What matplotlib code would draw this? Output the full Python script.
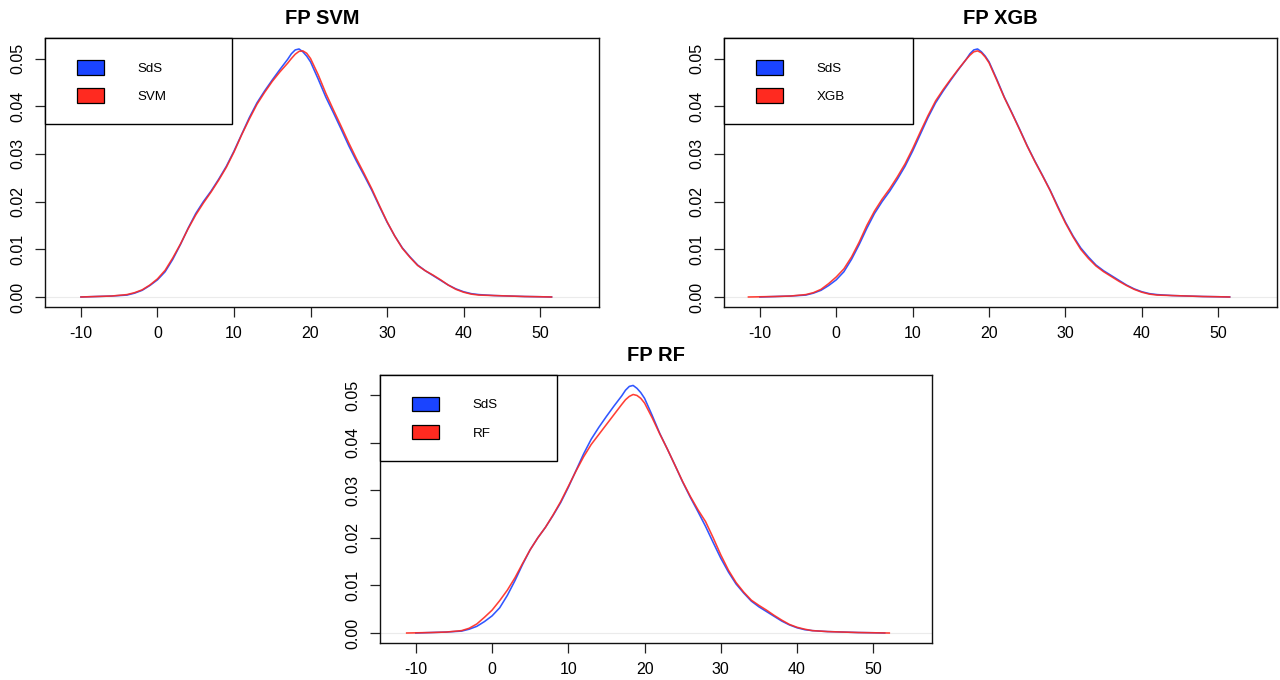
import matplotlib
matplotlib.use("Agg")
import matplotlib.pyplot as plt
from matplotlib.patches import Rectangle

plt.rcParams['font.family'] = ['Liberation Sans', 'DejaVu Sans']
plt.rcParams['axes.unicode_minus'] = False

FIG_W, FIG_H = 1280, 680

# interior evaluation points shared by all density curves
x_grid = [-8, -6, -4, -3, -2, -1, 0, 1, 2, 3, 4, 5, 6, 7, 8, 9, 10, 11, 12, 13, 14, 15, 16, 17,
          17.5, 18, 18.5, 19, 19.5, 20, 21, 22, 23, 24, 25, 26, 27, 28, 29, 30, 31, 32, 33, 34,
          35, 36, 37, 38, 39, 40, 41, 42, 44, 46, 48, 50]

# kernel density of the reference (SdS) and of each model
dens_sds = [0.0001, 0.0002, 0.0004, 0.0008, 0.0014, 0.0024, 0.0036, 0.0053, 0.0079, 0.0110,
            0.0144, 0.0175, 0.0200, 0.0222, 0.0247, 0.0274, 0.0306, 0.0341, 0.0376, 0.0407,
            0.0432, 0.0455, 0.0477, 0.0498, 0.0510, 0.0518, 0.0520, 0.0514, 0.0505, 0.0493,
            0.0457, 0.0419, 0.0386, 0.0352, 0.0317, 0.0285, 0.0255, 0.0224, 0.0190, 0.0157,
            0.0128, 0.0103, 0.0084, 0.0067, 0.0055, 0.0045, 0.0035, 0.0025, 0.0017, 0.0011,
            0.0007, 0.0005, 0.0003, 0.0002, 0.0001, 0.00005]
dens_svm = [0.0001, 0.0002, 0.0005, 0.0009, 0.0015, 0.0025, 0.0038, 0.0056, 0.0082, 0.0111,
            0.0143, 0.0172, 0.0197, 0.0220, 0.0245, 0.0272, 0.0304, 0.0340, 0.0373, 0.0404,
            0.0429, 0.0452, 0.0472, 0.0490, 0.0500, 0.0509, 0.0515, 0.0516, 0.0511, 0.0500,
            0.0466, 0.0427, 0.0392, 0.0358, 0.0323, 0.0290, 0.0259, 0.0227, 0.0192, 0.0158,
            0.0128, 0.0102, 0.0083, 0.0066, 0.0055, 0.0046, 0.0036, 0.0025, 0.0016, 0.0010,
            0.0006, 0.0004, 0.0003, 0.0002, 0.0001, 0.00005]
dens_xgb = [0.0001, 0.0002, 0.0005, 0.0009, 0.0016, 0.0028, 0.0042, 0.0059, 0.0084, 0.0115,
            0.0150, 0.0180, 0.0205, 0.0227, 0.0252, 0.0279, 0.0311, 0.0346, 0.0380, 0.0411,
            0.0435, 0.0457, 0.0478, 0.0498, 0.0507, 0.0514, 0.0516, 0.0512, 0.0503, 0.0491,
            0.0455, 0.0418, 0.0385, 0.0351, 0.0316, 0.0284, 0.0254, 0.0223, 0.0188, 0.0155,
            0.0126, 0.0100, 0.0081, 0.0065, 0.0053, 0.0043, 0.0033, 0.0024, 0.0016, 0.0010,
            0.0006, 0.0004, 0.0003, 0.0002, 0.0001, 0.00005]
dens_rf = [0.0001, 0.0002, 0.0005, 0.0010, 0.0019, 0.0033, 0.0048, 0.0068, 0.0090, 0.0116,
           0.0146, 0.0175, 0.0200, 0.0222, 0.0248, 0.0276, 0.0308, 0.0340, 0.0370, 0.0396,
           0.0417, 0.0438, 0.0459, 0.0480, 0.0490, 0.0497, 0.0501, 0.0499, 0.0493, 0.0483,
           0.0452, 0.0418, 0.0386, 0.0352, 0.0318, 0.0287, 0.0259, 0.0234, 0.0200, 0.0164,
           0.0132, 0.0106, 0.0086, 0.0069, 0.0058, 0.0048, 0.0037, 0.0027, 0.0018, 0.0012,
           0.0008, 0.0005, 0.0003, 0.0002, 0.0001, 0.00005]

# support of each density estimate (where it reaches zero)
range_sds = (-10.0, 51.5)
range_svm = (-10.0, 51.5)
range_xgb = (-11.5, 51.5)
range_rf = (-11.2, 52.1)

titles = ["FP SVM", "FP XGB", "FP RF"]
models = ["SVM", "XGB", "RF"]
model_dens = [dens_svm, dens_xgb, dens_rf]
model_ranges = [range_svm, range_xgb, range_rf]

x_ticks = [-10, 0, 10, 20, 30, 40, 50]
y_ticks = [0.00, 0.01, 0.02, 0.03, 0.04, 0.05]
y_tick_labels = ["0.00", "0.01", "0.02", "0.03", "0.04", "0.05"]

BLUE = "#1a44ff"
RED = "#ff2a20"

# panel boxes in pixels: left, top, right, bottom
boxes = [(45, 38, 599, 307), (724, 38, 1277, 307), (380, 374.5, 932, 643)]
key_widths = [187, 189, 177]


def curve(rng, dens):
    xs = [rng[0]] + x_grid + [rng[1]]
    ys = [0.0] + dens + [0.0]
    return xs, ys


def add_key(ax, labels, colors, width_px):
    bb = ax.get_position()
    w = bb.width * FIG_W
    h = bb.height * FIG_H
    key_h = 86
    ax.add_patch(Rectangle((0, 1 - key_h / h), width_px / w, key_h / h,
                           transform=ax.transAxes, facecolor="white",
                           edgecolor="black", lw=1.0, clip_on=False, zorder=5))
    for i, (lab, col) in enumerate(zip(labels, colors)):
        top = 22 + i * 28.3
        ax.add_patch(Rectangle((32 / w, 1 - (top + 14.5) / h), 27 / w, 14.5 / h,
                               transform=ax.transAxes, facecolor=col,
                               edgecolor="black", lw=0.9, clip_on=False, zorder=6))
        ax.text(92.7 / w, 1 - (top + 8.8) / h, lab, transform=ax.transAxes,
                ha="left", va="center", fontsize=9.6, zorder=6)


fig = plt.figure(figsize=(FIG_W / 100, FIG_H / 100), dpi=100)

for i in range(3):
    l, t, r, b = boxes[i]
    ax = fig.add_axes([l / FIG_W, 1 - b / FIG_H, (r - l) / FIG_W, (b - t) / FIG_H])

    ax.axhline(0, color="#ebebeb", lw=0.8, zorder=1)
    xs, ys = curve(range_sds, dens_sds)
    ax.plot(xs, ys, color=BLUE, lw=1.15, alpha=0.9, zorder=2)
    xs, ys = curve(model_ranges[i], model_dens[i])
    ax.plot(xs, ys, color=RED, lw=1.15, alpha=0.9, zorder=3)

    ax.set_xlim(-14.7, 57.7)
    ax.set_ylim(-0.0021, 0.0543)
    ax.set_xticks(x_ticks)
    ax.set_xticklabels([str(v) for v in x_ticks])
    ax.set_yticks(y_ticks)
    ax.set_yticklabels(y_tick_labels)
    for lab in ax.get_yticklabels():
        lab.set_rotation(90)
        lab.set_va("center")
    ax.tick_params(length=7, width=0.9, labelsize=11.5, pad=7, color="#222222")
    for sp in ax.spines.values():
        sp.set_linewidth(1.0)
        sp.set_color("#111111")

    ax.set_title(titles[i], fontweight="bold", fontsize=14.5, pad=10)
    add_key(ax, ["SdS", models[i]], [BLUE, RED], key_widths[i])

fig.savefig("out.png", dpi=100)
